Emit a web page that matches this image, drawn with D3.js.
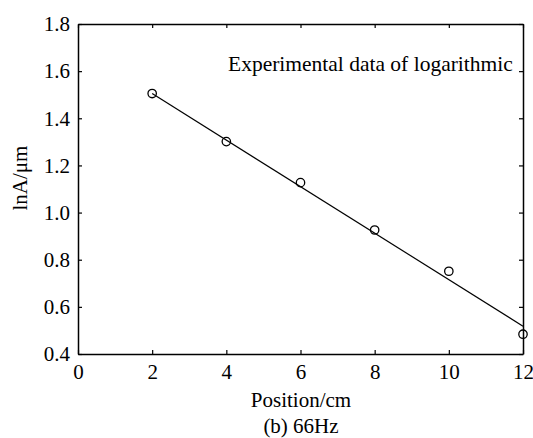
<!DOCTYPE html>
<html><head><meta charset="utf-8">
<script src="https://cdn.jsdelivr.net/npm/d3@7"></script>
<style>body{margin:0;background:#fff}svg{display:block}text{font-family:"Liberation Serif","Times New Roman",serif;fill:#000}</style>
</head><body>
<svg id="c" width="533" height="438"></svg>
<script>
const positions = [2, 4, 6, 8, 10, 12];
const lnA = [1.505, 1.301, 1.127, 0.926, 0.751, 0.484];
const fitX = [2, 12];
const fitY = [1.505, 0.518];
const xTicks = [0, 2, 4, 6, 8, 10, 12];
const yTicks = [0.4, 0.6, 0.8, 1.0, 1.2, 1.4, 1.6, 1.8];
const legendText = "Experimental data of logarithmic";
const xTitle = "Position/cm";
const yTitle = "lnA/μm";
const caption = "(b) 66Hz";

const svg = d3.select("#c");
const L = 78, R = 523, T = 24, B = 354;
const x = d3.scaleLinear().domain([0, 12]).range([L, R]);
const y = d3.scaleLinear().domain([0.4, 1.8]).range([B, T]);
const tl = 4;

const fmtY = d3.format(".1f");
svg.append("g").attr("transform", `translate(0,${B})`)
  .call(d3.axisBottom(x).tickValues(xTicks).tickFormat(d3.format("d")).tickSizeInner(-tl).tickSizeOuter(0).tickPadding(10));
svg.append("g").attr("transform", `translate(0,${T})`)
  .call(d3.axisTop(x).tickValues(xTicks).tickFormat("").tickSizeInner(-tl).tickSizeOuter(0));
svg.append("g").attr("transform", `translate(${L},0)`)
  .call(d3.axisLeft(y).tickValues(yTicks).tickFormat(fmtY).tickSizeInner(-tl).tickSizeOuter(0).tickPadding(8));
svg.append("g").attr("transform", `translate(${R},0)`)
  .call(d3.axisRight(y).tickValues(yTicks).tickFormat("").tickSizeInner(-tl).tickSizeOuter(0));

svg.selectAll(".domain").attr("stroke", "#000").attr("stroke-width", 1.5);
svg.selectAll(".tick line").attr("stroke", "#000").attr("stroke-width", 1.2);
svg.selectAll(".tick text").style("font-family", '"Liberation Serif",serif').style("font-size", "21px").attr("fill", "#000");

svg.append("path")
  .datum(fitX.map((d, i) => [d, fitY[i]]))
  .attr("d", d3.line().x(d => x(d[0])).y(d => y(d[1])))
  .attr("fill", "none").attr("stroke", "#000").attr("stroke-width", 1.2);

svg.selectAll("circle.pt").data(positions.map((d, i) => [d, lnA[i]])).enter()
  .append("circle").attr("class", "pt")
  .attr("cx", d => x(d[0])).attr("cy", d => y(d[1])).attr("r", 4.2)
  .attr("fill", "none").attr("stroke", "#000").attr("stroke-width", 1.3);

svg.append("text").attr("x", 228).attr("y", 71).attr("text-anchor", "start")
  .style("font-size", "21.5px").text(legendText);

svg.append("text").attr("x", 301).attr("y", 407).attr("text-anchor", "middle")
  .style("font-size", "21px").text(xTitle);
svg.append("text").attr("x", 301).attr("y", 433).attr("text-anchor", "middle")
  .style("font-size", "21px").text(caption);
svg.append("text").attr("transform", "translate(27,178) rotate(-90)").attr("text-anchor", "middle")
  .style("font-size", "21px").text(yTitle);
</script>
</body></html>
